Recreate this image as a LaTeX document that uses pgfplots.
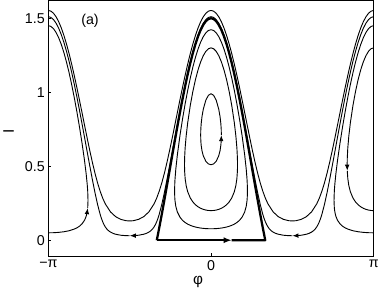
\documentclass[border=0pt]{standalone}
\usepackage{pgfplots}
\pgfplotsset{compat=1.18}
\usepackage{fontspec}
\setmainfont{Liberation Sans}
\usetikzlibrary{arrows.meta}
\tikzset{thin orbit/.style={black, line width=0.9pt, line join=round, no markers},
  arr/.style={-{Latex[length=6pt,width=4.5pt]}}}
\begin{document}
\begin{tikzpicture}
\begin{axis}[
  scale only axis, width=319pt, height=251pt,
  xmin=-3.1416, xmax=3.1416, ymin=-0.11, ymax=1.62,
  xtick={-3.1416,0,3.1416}, xticklabels={−π,0,π},
  ytick={0,0.5,1,1.5}, yticklabels={0,0.5,1,1.5},
  tick align=inside, tick pos=left, major tick length=3pt,
  axis line style={line width=1pt},
  every tick/.style={black, line width=0.6pt},
  tick label style={font=\fontsize{14}{16}\selectfont},
  xlabel={φ}, ylabel={I},
  every axis x label/.style={at={(axis description cs:0.46,-0.098)}, anchor=center, font=\fontsize{15}{17}\selectfont},
  every axis y label/.style={at={(axis description cs:-0.122,0.49)}, anchor=center, rotate=90, font=\fontsize{15}{17}\selectfont},
  cycle list={{black, no markers}},
  clip=true,
]
% E1 small closed orbit (arrow on right side, up)
\addplot[thin orbit, arr] coordinates {(0.1997,0.7106) (0.197,0.7507) (0.19,0.7872) (0.175,0.8336) (0.15,0.8841) (0.1,0.9467) (0.05,0.9794) (0,0.990) (-0.05,0.9794) (-0.1,0.9467) (-0.15,0.8841) (-0.175,0.8336) (-0.19,0.7872) (-0.197,0.7507) (-0.1997,0.7106) (-0.197,0.6727) (-0.19,0.6416) (-0.175,0.6058) (-0.15,0.5712) (-0.1,0.5335) (-0.05,0.5157) (0,0.510) (0.05,0.5157) (0.1,0.5335) (0.15,0.5712) (0.175,0.6058) (0.19,0.6416) (0.197,0.6727) (0.1997,0.7106)};
% E2 closed orbit
\addplot[thin orbit] coordinates {(-0.5121,0.5099) (-0.51,0.5545) (-0.5,0.6229) (-0.48,0.7044) (-0.45,0.7943) (-0.4,0.9115) (-0.35,1.0065) (-0.3,1.0859) (-0.25,1.1519) (-0.2,1.2054) (-0.15,1.2468) (-0.1,1.2764) (-0.05,1.2941) (0,1.3) (0.05,1.2941) (0.1,1.2764) (0.15,1.2468) (0.2,1.2054) (0.25,1.1519) (0.3,1.0859) (0.35,1.0065) (0.4,0.9115) (0.45,0.7943) (0.48,0.7044) (0.5,0.6229) (0.51,0.5545) (0.5121,0.5099) (0.51,0.4689) (0.5,0.4175) (0.48,0.3691) (0.45,0.3274) (0.4,0.2853) (0.35,0.2584) (0.3,0.2395) (0.25,0.2257) (0.2,0.2157) (0.15,0.2086) (0.1,0.2037) (0.05,0.2009) (0,0.2) (-0.05,0.2009) (-0.1,0.2037) (-0.15,0.2086) (-0.2,0.2157) (-0.25,0.2257) (-0.3,0.2395) (-0.35,0.2584) (-0.4,0.2853) (-0.45,0.3274) (-0.48,0.3691) (-0.5,0.4175) (-0.51,0.4689) (-0.5121,0.5099)};
% E3 closed orbit
\addplot[thin orbit] coordinates {(-0.7034,0.3317) (-0.7,0.3822) (-0.695,0.4143) (-0.68,0.4801) (-0.65,0.5768) (-0.6,0.7068) (-0.55,0.8194) (-0.5,0.9209) (-0.45,1.013) (-0.4,1.0964) (-0.35,1.1709) (-0.3,1.2363) (-0.25,1.2925) (-0.2,1.339) (-0.15,1.3753) (-0.1,1.4016) (-0.05,1.4174) (0,1.4227) (0.05,1.4174) (0.1,1.4016) (0.15,1.3753) (0.2,1.339) (0.25,1.2925) (0.3,1.2363) (0.35,1.1709) (0.4,1.0964) (0.45,1.013) (0.5,0.9209) (0.55,0.8194) (0.6,0.7068) (0.65,0.5768) (0.68,0.4801) (0.695,0.4143) (0.7,0.3822) (0.7034,0.3317) (0.7,0.2879) (0.695,0.2656) (0.68,0.2291) (0.65,0.1907) (0.6,0.1557) (0.55,0.1343) (0.5,0.1195) (0.45,0.1086) (0.4,0.1004) (0.35,0.094) (0.3,0.089) (0.25,0.0851) (0.2,0.0822) (0.15,0.08) (0.1,0.0785) (0.05,0.0776) (0,0.0773) (-0.05,0.0776) (-0.1,0.0785) (-0.15,0.08) (-0.2,0.0822) (-0.25,0.0851) (-0.3,0.089) (-0.35,0.094) (-0.4,0.1004) (-0.45,0.1086) (-0.5,0.1195) (-0.55,0.1343) (-0.6,0.1557) (-0.65,0.1907) (-0.68,0.2291) (-0.695,0.2656) (-0.7,0.2879) (-0.7034,0.3317)};
% T thick orbit
\addplot[black, no markers, line width=2.2pt, -{Latex[length=8pt,width=6pt]}] coordinates {(-1.0472,0) (0.40,0)};
\addplot[black, no markers, line width=2.2pt, line join=round] coordinates {(0.40,0) (1.0472,0) (1,0.0839) (0.95,0.1767) (0.9,0.2728) (0.85,0.3712) (0.8,0.4708) (0.75,0.5707) (0.7,0.67) (0.65,0.7675) (0.6,0.8624) (0.55,0.9536) (0.5,1.0403) (0.45,1.1216) (0.4,1.1967) (0.35,1.2648) (0.3,1.3253) (0.25,1.3776) (0.2,1.4211) (0.15,1.4553) (0.1,1.4801) (0.05,1.495) (0,1.5) (-0.05,1.495) (-0.1,1.4801) (-0.15,1.4553) (-0.2,1.4211) (-0.25,1.3776) (-0.3,1.3253) (-0.35,1.2648) (-0.4,1.1967) (-0.45,1.1216) (-0.5,1.0403) (-0.55,0.9536) (-0.6,0.8624) (-0.65,0.7675) (-0.7,0.67) (-0.75,0.5707) (-0.8,0.4708) (-0.85,0.3712) (-0.9,0.2728) (-0.95,0.1767) (-1,0.0839) (-1.0472,0)};
% R1 running curve
\addplot[thin orbit] coordinates {(-3.1416,1.5528) (-3.0916,1.548) (-3.0416,1.5336) (-2.9916,1.5096) (-2.9416,1.4766) (-2.8916,1.4348) (-2.8416,1.3845) (-2.7916,1.3266) (-2.7416,1.2617) (-2.6916,1.1905) (-2.6416,1.1139) (-2.5916,1.033) (-2.5416,0.9488) (-2.4916,0.8626) (-2.4416,0.7757) (-2.3916,0.6896) (-2.3416,0.6061) (-2.2916,0.5269) (-2.2416,0.4536) (-2.1916,0.388) (-2.1416,0.3314) (-2.0916,0.284) (-2.0416,0.2455) (-1.9416,0.1913) (-1.8416,0.159) (-1.7416,0.1407) (-1.6416,0.1319) (-1.5708,0.1301) (-1.5,0.1319) (-1.4,0.1407) (-1.3,0.159) (-1.2,0.1913) (-1.1,0.2455) (-1.05,0.284) (-1,0.3314) (-0.95,0.388) (-0.9,0.4536) (-0.85,0.5269) (-0.8,0.6061) (-0.75,0.6896) (-0.7,0.7757) (-0.65,0.8626) (-0.6,0.9488) (-0.55,1.033) (-0.5,1.1139) (-0.45,1.1905) (-0.4,1.2617) (-0.35,1.3266) (-0.3,1.3845) (-0.25,1.4348) (-0.2,1.4766) (-0.15,1.5096) (-0.1,1.5336) (-0.05,1.548) (0,1.5528) (0.05,1.548) (0.1,1.5336) (0.15,1.5096) (0.2,1.4766) (0.25,1.4348) (0.3,1.3845) (0.35,1.3266) (0.4,1.2617) (0.45,1.1905) (0.5,1.1139) (0.55,1.033) (0.6,0.9488) (0.65,0.8626) (0.7,0.7757) (0.75,0.6896) (0.8,0.6061) (0.85,0.5269) (0.9,0.4536) (0.95,0.388) (1,0.3314) (1.05,0.284) (1.1,0.2455) (1.2,0.1913) (1.3,0.159) (1.4,0.1407) (1.5,0.1319) (1.5708,0.1301) (1.6416,0.1319) (1.7416,0.1407) (1.8416,0.159) (1.9416,0.1913) (2.0416,0.2455) (2.0916,0.284) (2.1416,0.3314) (2.1916,0.388) (2.2416,0.4536) (2.2916,0.5269) (2.3416,0.6061) (2.3916,0.6896) (2.4416,0.7757) (2.4916,0.8626) (2.5416,0.9488) (2.5916,1.033) (2.6416,1.1139) (2.6916,1.1905) (2.7416,1.2617) (2.7916,1.3266) (2.8416,1.3845) (2.8916,1.4348) (2.9416,1.4766) (2.9916,1.5096) (3.0416,1.5336) (3.0916,1.548) (3.1416,1.5528)};
% R2 running curve (three pieces with arrows)
\addplot[thin orbit, arr] coordinates {(3.1416,1.5106) (3.0916,1.5056) (3.0416,1.4909) (2.9916,1.4662) (2.9416,1.4323) (2.8916,1.3891) (2.8416,1.3373) (2.7916,1.2773) (2.7416,1.21) (2.6916,1.1357) (2.6416,1.0555) (2.5916,0.9701) (2.5416,0.8806) (2.4916,0.7878) (2.4416,0.6931) (2.3916,0.5975) (2.3416,0.5027) (2.2916,0.4102) (2.2416,0.3224) (2.1916,0.2426) (2.1416,0.1752) (2.1166,0.1474) (2.0916,0.1241) (2.0666,0.105) (2.0416,0.0898) (2.0166,0.0777) (1.9916,0.0683) (1.9666,0.0608) (1.9416,0.0548) (1.8916,0.0461) (1.8416,0.0403) (1.7416,0.0336) (1.6416,0.0307) (1.5708,0.0302)};
\addplot[thin orbit, arr] coordinates {(1.5708,0.0302) (1.5,0.0307) (1.4,0.0336) (1.3,0.0403) (1.25,0.0461) (1.2,0.0548) (1.175,0.0608) (1.15,0.0683) (1.125,0.0777) (1.1,0.0898) (1.075,0.105) (1.05,0.1241) (1.025,0.1474) (1,0.1752) (0.95,0.2426) (0.9,0.3224) (0.85,0.4102) (0.8,0.5027) (0.75,0.5975) (0.7,0.6931) (0.65,0.7878) (0.6,0.8806) (0.55,0.9701) (0.5,1.0555) (0.45,1.1357) (0.4,1.21) (0.35,1.2773) (0.3,1.3373) (0.25,1.3891) (0.2,1.4323) (0.15,1.4662) (0.1,1.4909) (0.05,1.5056) (0,1.5106) (-0.05,1.5056) (-0.1,1.4909) (-0.15,1.4662) (-0.2,1.4323) (-0.25,1.3891) (-0.3,1.3373) (-0.35,1.2773) (-0.4,1.21) (-0.45,1.1357) (-0.5,1.0555) (-0.55,0.9701) (-0.6,0.8806) (-0.65,0.7878) (-0.7,0.6931) (-0.75,0.5975) (-0.8,0.5027) (-0.85,0.4102) (-0.9,0.3224) (-0.95,0.2426) (-1,0.1752) (-1.025,0.1474) (-1.05,0.1241) (-1.075,0.105) (-1.1,0.0898) (-1.125,0.0777) (-1.15,0.0683) (-1.175,0.0608) (-1.2,0.0548) (-1.25,0.0461) (-1.3,0.0403) (-1.4,0.0336) (-1.5,0.0307) (-1.5708,0.0302)};
\addplot[thin orbit] coordinates {(-1.5708,0.0302) (-1.6416,0.0307) (-1.7416,0.0336) (-1.8416,0.0403) (-1.8916,0.0461) (-1.9416,0.0548) (-1.9666,0.0608) (-1.9916,0.0683) (-2.0166,0.0777) (-2.0416,0.0898) (-2.0666,0.105) (-2.0916,0.1241) (-2.1166,0.1474) (-2.1416,0.1752) (-2.1916,0.2426) (-2.2416,0.3224) (-2.2916,0.4102) (-2.3416,0.5027) (-2.3916,0.5975) (-2.4416,0.6931) (-2.4916,0.7878) (-2.5416,0.8806) (-2.5916,0.9701) (-2.6416,1.0555) (-2.6916,1.1357) (-2.7416,1.21) (-2.7916,1.2773) (-2.8416,1.3373) (-2.8916,1.3891) (-2.9416,1.4323) (-2.9916,1.4662) (-3.0416,1.4909) (-3.0916,1.5056) (-3.1416,1.5106)};
% P orbit around -pi (right half)
\addplot[thin orbit, arr] coordinates {(-3.1416,0.05) (-3.0416,0.0507) (-2.9416,0.053) (-2.8416,0.0572) (-2.7416,0.064) (-2.6416,0.0751) (-2.5916,0.0833) (-2.5416,0.0944) (-2.4916,0.1103) (-2.4416,0.1357) (-2.4116,0.1614) (-2.3916,0.1909) (-2.3816,0.2175)};
\addplot[thin orbit] coordinates {(-2.3816,0.2175) (-2.3754,0.2693) (-2.3816,0.3333) (-2.3916,0.3799) (-2.4116,0.4492) (-2.4416,0.5343) (-2.4916,0.6572) (-2.5416,0.768) (-2.5916,0.8703) (-2.6416,0.9652) (-2.6916,1.0528) (-2.7416,1.1327) (-2.7916,1.2046) (-2.8416,1.2682) (-2.8916,1.3228) (-2.9416,1.3681) (-2.9916,1.4037) (-3.0416,1.4294) (-3.0916,1.4448) (-3.1416,1.45)};
% P orbit around +pi (left half)
\addplot[thin orbit] coordinates {(3.1416,1.45) (3.0916,1.4448) (3.0416,1.4294) (2.9916,1.4037) (2.9416,1.3681) (2.8916,1.3228) (2.8416,1.2682) (2.7916,1.2046) (2.7416,1.1327) (2.6916,1.0528) (2.6416,0.9652) (2.5916,0.8703) (2.5416,0.768) (2.4916,0.6572) (2.4416,0.5343) (2.4116,0.4492) (2.3916,0.3799) (2.3816,0.3333) (2.3754,0.2693) (2.3816,0.2175) (2.3916,0.1909) (2.4116,0.1614) (2.4416,0.1357) (2.4916,0.1103) (2.5416,0.0944) (2.5916,0.0833) (2.6416,0.0751) (2.7416,0.064) (2.8416,0.0572) (2.9416,0.053) (3.0416,0.0507) (3.1416,0.05)};
% Q orbit around +pi (left half)
\addplot[thin orbit, arr] coordinates {(3.1416,1.3) (3.0916,1.2941) (3.0416,1.2764) (2.9916,1.2468) (2.9416,1.2054) (2.8916,1.1519) (2.8416,1.0859) (2.7916,1.0065) (2.7416,0.9115) (2.6916,0.7943) (2.6616,0.7044) (2.6416,0.6229) (2.6316,0.5545) (2.6295,0.5099) (2.6316,0.4689)};
\addplot[thin orbit] coordinates {(2.6316,0.4689) (2.6416,0.4175) (2.6616,0.3691) (2.6916,0.3274) (2.7416,0.2853) (2.7916,0.2584) (2.8416,0.2395) (2.8916,0.2257) (2.9416,0.2157) (2.9916,0.2086) (3.0416,0.2037) (3.0916,0.2009) (3.1416,0.2)};
\node[font=\fontsize{14}{16}\selectfont] at (axis description cs:0.128,0.92) {(a)};
\end{axis}
\end{tikzpicture}
\end{document}
